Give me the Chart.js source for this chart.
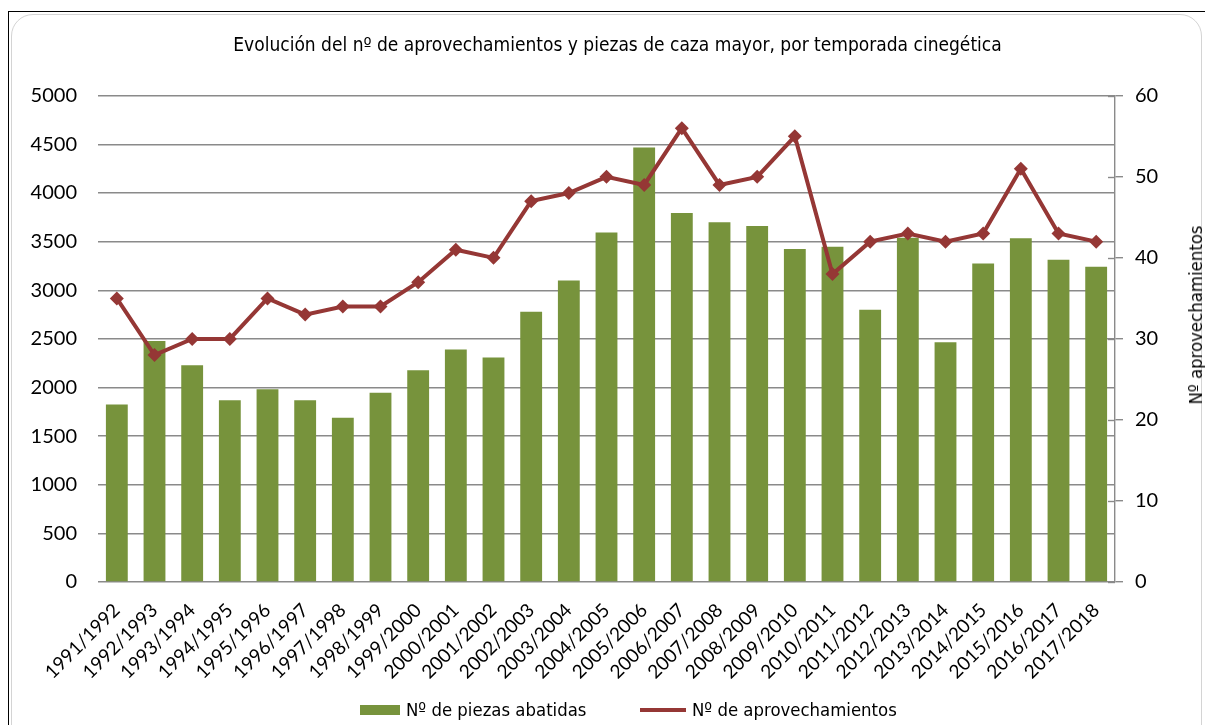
<!DOCTYPE html>
<html><head><meta charset="utf-8">
<script src="https://cdn.jsdelivr.net/npm/chart.js@4.4.0/dist/chart.umd.min.js"></script>
<style>
html,body{margin:0;padding:0;background:#fff;}
#wrap{position:relative;width:1205px;height:725px;overflow:hidden;background:#fff;}
#frame{position:absolute;left:8px;top:11px;right:0;bottom:0;border-top:1px solid #000;border-left:1px solid #000;}
#inner{position:absolute;left:11px;top:14px;width:1189px;height:740px;border:1px solid #d4d4d4;border-radius:22px;}
canvas{position:absolute;left:0;top:0;}
.txt{position:absolute;font-family:'DejaVu Sans Condensed','Liberation Sans',sans-serif;font-size:18.4px;color:#000;line-height:24px;white-space:nowrap;}
.sw{position:absolute;}
</style></head>
<body><div id="wrap">
<div id="frame"></div><div id="inner"></div>
<canvas id="c" width="1205" height="725"></canvas>
<div class="sw" style="left:360px;top:705px;width:40px;height:10px;background:#77933C"></div>
<div class="txt" style="left:406px;top:698px">Nº de piezas abatidas</div>
<div class="sw" style="left:640px;top:708px;width:46px;height:4px;background:#953735"></div>
<div class="txt" style="left:692px;top:698px">Nº de aprovechamientos</div>
<div class="txt" style="left:1196px;top:315px;transform:translate(-50%,-50%) rotate(-90deg)">Nº aprovechamientos</div>
</div>
<script>
const seasons = ['1991/1992','1992/1993','1993/1994','1994/1995','1995/1996','1996/1997','1997/1998','1998/1999','1999/2000','2000/2001','2001/2002','2002/2003','2003/2004','2004/2005','2005/2006','2006/2007','2007/2008','2008/2009','2009/2010','2010/2011','2011/2012','2012/2013','2013/2014','2014/2015','2015/2016','2016/2017','2017/2018'];
const piezasAbatidas = [1825,2478,2228,1870,1982,1870,1690,1945,2178,2392,2308,2780,3100,3595,4468,3795,3700,3662,3425,3447,2800,3540,2465,3275,3535,3315,3243];
const aprovechamientos = [35,28,30,30,35,33,34,34,37,41,40,47,48,50,49,56,49,50,55,38,42,43,42,43,51,43,42];
const leftTicks = [0,500,1000,1500,2000,2500,3000,3500,4000,4500,5000];
const rightTicks = [0,10,20,30,40,50,60];

const tickFont = {family: "Lato, 'Liberation Sans', sans-serif", size: 20};
const xTickFont = {family: "Lato, 'Liberation Sans', sans-serif", size: 19};

const innerTicks = {
  id:'innerTicks',
  afterDraw(chart){
    const s = chart.scales.y1, ctx = chart.ctx;
    ctx.save();
    ctx.strokeStyle = '#8a8a8a'; ctx.lineWidth = 1.4;
    rightTicks.forEach(v=>{
      const py = Math.round(s.getPixelForValue(v)) + 0.5;
      ctx.beginPath(); ctx.moveTo(s.left - 7, py); ctx.lineTo(s.left, py); ctx.stroke();
    });
    ctx.restore();
  }
};

new Chart(document.getElementById('c'), {
  data: {
    labels: seasons,
    datasets: [
      {type:'line', label:'Nº de aprovechamientos', data: aprovechamientos, yAxisID:'y1', order:0,
       borderColor:'#953735', backgroundColor:'#953735', borderWidth:4, tension:0,
       pointStyle:'rectRot', pointRadius:7, pointHoverRadius:7, pointBackgroundColor:'#953735', pointBorderWidth:0},
      {type:'bar', label:'Nº de piezas abatidas', data: piezasAbatidas, yAxisID:'y', order:1,
       backgroundColor:'#77933C', barPercentage:0.58, categoryPercentage:1.0}
    ]
  },
  plugins:[innerTicks],
  options: {
    responsive:false, animation:false, devicePixelRatio:1,
    layout:{padding:{left:30,right:0,top:0,bottom:0}},
    plugins:{
      legend:{display:false},
      tooltip:{enabled:false},
      title:{display:true, text:'Evolución del nº de aprovechamientos y piezas de caza mayor, por temporada cinegética',
        color:'#000', font:{family:"'DejaVu Sans Condensed','Liberation Sans',sans-serif", size:19, weight:'normal'},
        padding:{top:35, bottom:38}}
    },
    scales:{
      x:{
        grid:{display:false, drawTicks:false}, border:{display:false},
        ticks:{color:'#000', font:xTickFont, minRotation:45, maxRotation:45, autoSkip:false, padding:17},
        afterFit:(s)=>{s.height = 143;}
      },
      y:{
        position:'left', min:0, max:5000,
        afterBuildTicks:(s)=>{s.ticks = leftTicks.map(v=>({value:v}));},
        grid:{color:'#8a8a8a', lineWidth:1.4, drawTicks:false}, border:{display:false},
        ticks:{color:'#000', font:tickFont, padding:21, callback:(v)=>String(v)},
        afterFit:(s)=>{s.width = 68;}
      },
      y1:{
        position:'right', min:0, max:60,
        afterBuildTicks:(s)=>{s.ticks = rightTicks.map(v=>({value:v}));},
        grid:{drawOnChartArea:false, color:'#8a8a8a', lineWidth:1.4, tickLength:8}, border:{display:true, color:'#8a8a8a', width:1.4},
        ticks:{color:'#000', font:tickFont, padding:12, callback:(v)=>String(v)},
        afterFit:(s)=>{s.width = 90;}
      }
    }
  }
});
</script>
</body></html>
